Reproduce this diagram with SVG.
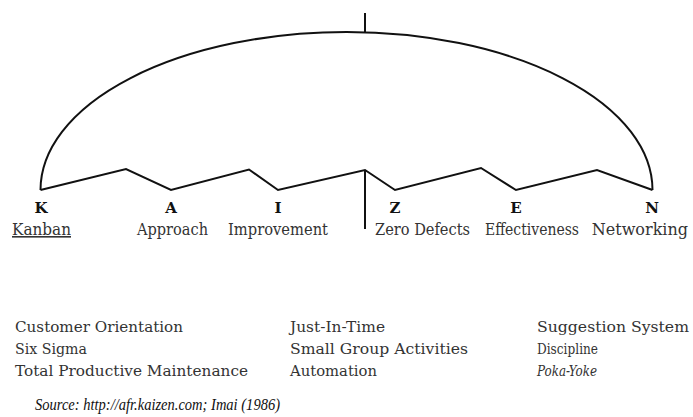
<svg xmlns="http://www.w3.org/2000/svg" width="693" height="417" viewBox="0 0 693 417">
<style>
.ln{fill:none;stroke:#111;stroke-width:2;stroke-linejoin:miter}
.let{font-family:"DejaVu Serif","Liberation Serif",serif;font-weight:bold;font-size:15px;fill:#111;text-anchor:middle}
.wd{font-family:"DejaVu Serif","Liberation Serif",serif;font-size:16px;fill:#333}
.li{font-family:"DejaVu Serif","Liberation Serif",serif;font-size:15.5px;fill:#333}
.src{font-family:"Liberation Serif",serif;font-style:italic;font-size:17px;fill:#111}
</style>
<rect width="693" height="417" fill="#fff"/>
<g id="connectors">
<line class="ln" x1="365" y1="13" x2="365" y2="33" stroke-width="2.5"/>
<path class="ln" d="M40.5,190 A306,158 0 0 1 652.5,190"/>
<polyline class="ln" points="40.5,190 126,169 171,190 249,169.5 278,190 365,170 395,190 481,168 516,190 597,170 652.5,190"/>
<line class="ln" x1="365" y1="170" x2="365" y2="229" stroke-width="2.5"/>
</g>
<g id="node-k"><text class="let" x="41" y="213">K</text><text class="wd" x="12" y="235" textLength="59" lengthAdjust="spacingAndGlyphs" text-decoration="underline">Kanban</text></g>
<g id="node-a"><text class="let" x="171" y="213">A</text><text class="wd" x="137" y="235" textLength="71" lengthAdjust="spacingAndGlyphs">Approach</text></g>
<g id="node-i"><text class="let" x="278" y="213">I</text><text class="wd" x="228" y="235" textLength="100" lengthAdjust="spacingAndGlyphs">Improvement</text></g>
<g id="node-z"><text class="let" x="395" y="213">Z</text><text class="wd" x="375" y="235" textLength="95" lengthAdjust="spacingAndGlyphs">Zero Defects</text></g>
<g id="node-e"><text class="let" x="516" y="213">E</text><text class="wd" x="485" y="235" textLength="94" lengthAdjust="spacingAndGlyphs">Effectiveness</text></g>
<g id="node-n"><text class="let" x="652" y="213">N</text><text class="wd" x="688" y="235" font-size="14.5" text-anchor="end">Networking</text></g>
<g id="list">
<text class="li" x="15" y="332" textLength="168" lengthAdjust="spacingAndGlyphs">Customer Orientation</text>
<text class="li" x="15" y="354" textLength="72" lengthAdjust="spacingAndGlyphs">Six Sigma</text>
<text class="li" x="15" y="376" textLength="233" lengthAdjust="spacingAndGlyphs">Total Productive Maintenance</text>
<text class="li" x="290" y="332" textLength="95" lengthAdjust="spacingAndGlyphs">Just-In-Time</text>
<text class="li" x="290" y="354" textLength="178" lengthAdjust="spacingAndGlyphs">Small Group Activities</text>
<text class="li" x="290" y="376" textLength="87" lengthAdjust="spacingAndGlyphs">Automation</text>
<text class="li" x="537" y="332" textLength="152" lengthAdjust="spacingAndGlyphs">Suggestion System</text>
<text class="li" x="537" y="354" textLength="61" lengthAdjust="spacingAndGlyphs">Discipline</text>
<text class="li" x="537" y="376" font-style="italic" textLength="60" lengthAdjust="spacingAndGlyphs">Poka-Yoke</text>
<text class="src" x="35" y="410" textLength="245" lengthAdjust="spacingAndGlyphs">Source: http://afr.kaizen.com; Imai (1986)</text>
</g>
</svg>
